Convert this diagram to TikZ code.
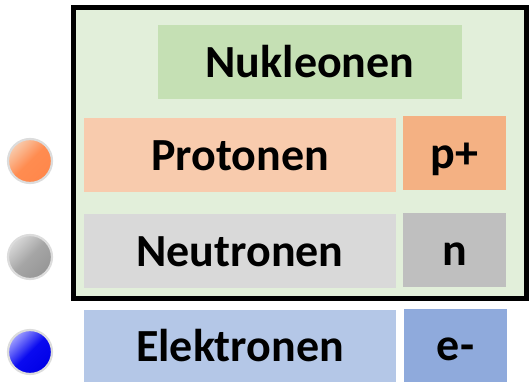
\documentclass[tikz,border=0pt]{standalone}
\usepackage{fontspec}
\setmainfont{Carlito}
\definecolor{frameFill}{HTML}{E2EFDA}
\definecolor{nukFill}{HTML}{C5E0B4}
\definecolor{proFill}{HTML}{F8CBAD}
\definecolor{proDark}{HTML}{F4B183}
\definecolor{neuFill}{HTML}{D9D9D9}
\definecolor{neuDark}{HTML}{BFBFBF}
\definecolor{elFill}{HTML}{B4C7E7}
\definecolor{elDark}{HTML}{8FAADC}
\definecolor{ringCol}{HTML}{DCDCDC}
\begin{document}
\begin{tikzpicture}[x=1pt,y=-1pt,
  lbl/.style={font=\fontsize{46}{50}\selectfont\bfseries, inner sep=0pt, anchor=base},
  ringstyle/.style={draw=ringCol, line width=2.2pt}]
\useasboundingbox (0,0) rectangle (529,382);
% frame
\draw[line width=5pt, fill=frameFill] (73.5,7.5) rectangle (526.5,298.5);
% boxes
\fill[nukFill] (158,25) rectangle (462,99);
\fill[proFill] (84,118) rectangle (396,192);
\fill[proDark] (403,116) rectangle (506,190);
\fill[neuFill] (84,214) rectangle (396,288);
\fill[neuDark] (403,213) rectangle (506,287);
\fill[elFill] (84,310) rectangle (396,382);
\fill[elDark] (404,309) rectangle (507,382);
% labels
\node[lbl] (nuk) at (310,78) {Nukleonen};
\node[lbl] (pro) at (240,170) {Protonen};
\node[lbl] (pp) at (454.5,168) {p+};
\node[lbl] (neu) at (240,266) {Neutronen};
\node[lbl] (nn) at (454.5,265) {n};
\node[lbl] (el) at (240,361) {Elektronen};
\node[lbl] (ee) at (455.5,360) {e-};
% balls
\shade[shading=axis, top color=proFill, bottom color={rgb,255:red,255;green,135;blue,75}, middle color={rgb,255:red,255;green,140;blue,80}, shading angle=45] (30,161) circle (22);
\draw[ringstyle] (30,161) circle (22);
\shade[shading=axis, top color={rgb,255:red,215;green,215;blue,215}, bottom color={rgb,255:red,150;green,150;blue,150}, middle color={rgb,255:red,165;green,165;blue,165}, shading angle=45] (30,257) circle (22);
\draw[ringstyle] (30,257) circle (22);
\shade[shading=axis, top color={rgb,255:red,160;green,160;blue,255}, bottom color={rgb,255:red,0;green,0;blue,230}, middle color={rgb,255:red,10;green,10;blue,240}, shading angle=45] (30,352) circle (22);
\draw[ringstyle] (30,352) circle (22);
\end{tikzpicture}
\end{document}
